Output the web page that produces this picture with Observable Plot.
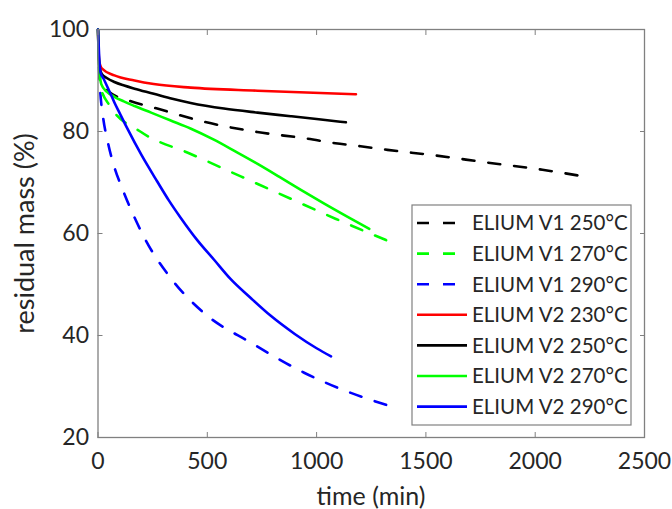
<!DOCTYPE html>
<html>
<head>
<meta charset="utf-8">
<script src="https://cdn.jsdelivr.net/npm/d3@7"></script>
<script src="https://cdn.jsdelivr.net/npm/@observablehq/plot@0.6"></script>
<style>
  html, body { margin: 0; padding: 0; background: #fff; }
  #chart svg { font-family: Lato, "Open Sans", sans-serif; }
</style>
</head>
<body>
<div id="chart"></div>
<script>
// ---- data (time in min, residual mass in %) ----
const seriesNames = ["ELIUM V1 250°C", "ELIUM V1 270°C", "ELIUM V1 290°C", "ELIUM V2 230°C", "ELIUM V2 250°C", "ELIUM V2 270°C", "ELIUM V2 290°C"];
const seriesColors = ["#000000", "#00ff00", "#0000ff", "#ff0000", "#000000", "#00ff00", "#0000ff"];
const seriesDashed = [true, true, true, false, false, false, false];

const v1_250_t = [0, 10, 50, 140, 271, 477, 728, 957, 1086, 1201, 1324, 1544, 1782, 2033, 2193];
const v1_250_m = [100, 90, 87.8, 86.1, 84.5, 82.0, 79.9, 78.6, 77.7, 77.1, 76.4, 75.3, 73.9, 72.5, 71.4];

const v1_270_t = [0, 10, 53, 197, 424, 653, 882, 1086, 1318];
const v1_270_m = [100, 89, 85.1, 79.9, 75.6, 71.2, 66.8, 62.9, 58.7];

const v1_290_t = [0, 5, 10, 22, 45, 75, 113, 159, 218, 332, 485, 699, 943, 1111, 1318];
const v1_290_m = [100, 92, 88, 83.2, 77.9, 73.0, 68.6, 63.9, 58.7, 51.3, 44.4, 38.6, 32.7, 29.5, 26.4];

const v2_230_t = [0, 5, 17, 75, 167, 255, 424, 730, 1180];
const v2_230_m = [100, 94, 92.4, 91.0, 90.0, 89.3, 88.6, 88.0, 87.3];

const v2_250_t = [0, 5, 17, 40, 75, 120, 167, 255, 340, 424, 576, 730, 882, 1010, 1134];
const v2_250_m = [100, 93, 91.3, 90.5, 89.7, 89.0, 88.4, 87.4, 86.4, 85.6, 84.5, 83.7, 83.0, 82.4, 81.8];

const v2_270_t = [0, 5, 15, 40, 75, 118, 167, 243, 330, 423, 530, 628, 728, 830, 930, 1033, 1140, 1241];
const v2_270_m = [100, 93, 89.3, 87.8, 86.8, 85.9, 85.0, 83.7, 82.2, 80.6, 78.4, 76.1, 73.7, 71.1, 68.5, 65.9, 63.3, 60.9];

const v2_290_t = [0, 5, 12, 25, 53, 75, 98, 134, 200, 271, 324, 378, 454, 530, 606, 700, 789, 900, 1000, 1066];
const v2_290_m = [100, 95, 91.5, 90.4, 87.8, 85.7, 83.7, 80.6, 75.3, 70.2, 66.5, 63.1, 58.7, 54.9, 51.1, 47.3, 43.9, 40.3, 37.5, 35.9];

const xTicks = [0, 500, 1000, 1500, 2000, 2500];
const yTicks = [20, 40, 60, 80, 100];

const seriesT = [v1_250_t, v1_270_t, v1_290_t, v2_230_t, v2_250_t, v2_270_t, v2_290_t];
const seriesM = [v1_250_m, v1_270_m, v1_290_m, v2_230_m, v2_250_m, v2_270_m, v2_290_m];

const rows = [];
seriesNames.forEach((name, i) => {
  seriesT[i].forEach((t, j) => rows.push({series: name, dashed: seriesDashed[i], t, m: seriesM[i][j]}));
});
// dashed series are drawn from their last point backwards so a dash sits at the end
const dashedRows = rows.filter(d => d.dashed).slice().reverse();
const solidRows = rows.filter(d => !d.dashed);

const textColor = "#262626";
const axisColor = "#808080";

const plot = Plot.plot({
  width: 672,
  height: 509,
  marginLeft: 97.5,
  marginRight: 28,
  marginTop: 29,
  marginBottom: 72,
  style: {fontFamily: "Lato, 'Open Sans', sans-serif", fontSize: "23px", color: textColor, background: "#fff"},
  x: {domain: [0, 2500], ticks: xTicks},
  y: {domain: [20, 100], ticks: yTicks},
  color: {domain: seriesNames, range: seriesColors},
  marks: [
    Plot.line(dashedRows, {x: "t", y: "m", z: "series", stroke: "series", strokeWidth: 2.6, strokeDasharray: "12,14", curve: "monotone-x"}),
    Plot.line(solidRows, {x: "t", y: "m", z: "series", stroke: "series", strokeWidth: 2.6, curve: "monotone-x"}),
    Plot.frame({stroke: axisColor, strokeWidth: 1.3}),
    Plot.axisX(xTicks, {anchor: "bottom", tickSize: -5, tickPadding: 20, tickFormat: d3.format("d"), stroke: axisColor, fill: textColor, fontSize: 23, label: null}),
    Plot.axisX(xTicks, {anchor: "top", tickSize: -5, tickFormat: () => "", stroke: axisColor, label: null}),
    Plot.axisY(yTicks, {anchor: "left", tickSize: -5, tickPadding: 14, tickFormat: d3.format("d"), stroke: axisColor, fill: textColor, fontSize: 23, label: null}),
    Plot.axisY(yTicks, {anchor: "right", tickSize: -5, tickFormat: () => "", stroke: axisColor, label: null})
  ]
});

document.getElementById("chart").appendChild(plot);

const svg = d3.select(plot);
// axis titles
svg.append("text")
  .attr("x", 371).attr("y", 505)
  .attr("text-anchor", "middle")
  .attr("fill", textColor)
  .style("font-size", "25px")
  .text("time (min)");
svg.append("text")
  .attr("transform", "translate(33.5,233.5) rotate(-90)")
  .attr("text-anchor", "middle")
  .attr("fill", textColor)
  .style("font-size", "27px")
  .text("residual mass (%)");

// legend
const lg = svg.append("g");
lg.append("rect")
  .attr("x", 412).attr("y", 205).attr("width", 219).attr("height", 220)
  .attr("fill", "#fff").attr("stroke", axisColor).attr("stroke-width", 1.2);
seriesNames.forEach((name, i) => {
  const yy = 223 + i * 30.6;
  lg.append("line")
    .attr("x1", 417).attr("x2", 467).attr("y1", yy).attr("y2", yy)
    .attr("stroke", seriesColors[i]).attr("stroke-width", 2.6)
    .attr("stroke-dasharray", seriesDashed[i] ? "12,14" : null);
  lg.append("text")
    .attr("x", 472).attr("y", yy).attr("dy", "0.36em")
    .attr("text-anchor", "start")
    .attr("fill", textColor)
    .style("font-size", "20.5px")
    .text(name);
});
</script>
</body>
</html>
